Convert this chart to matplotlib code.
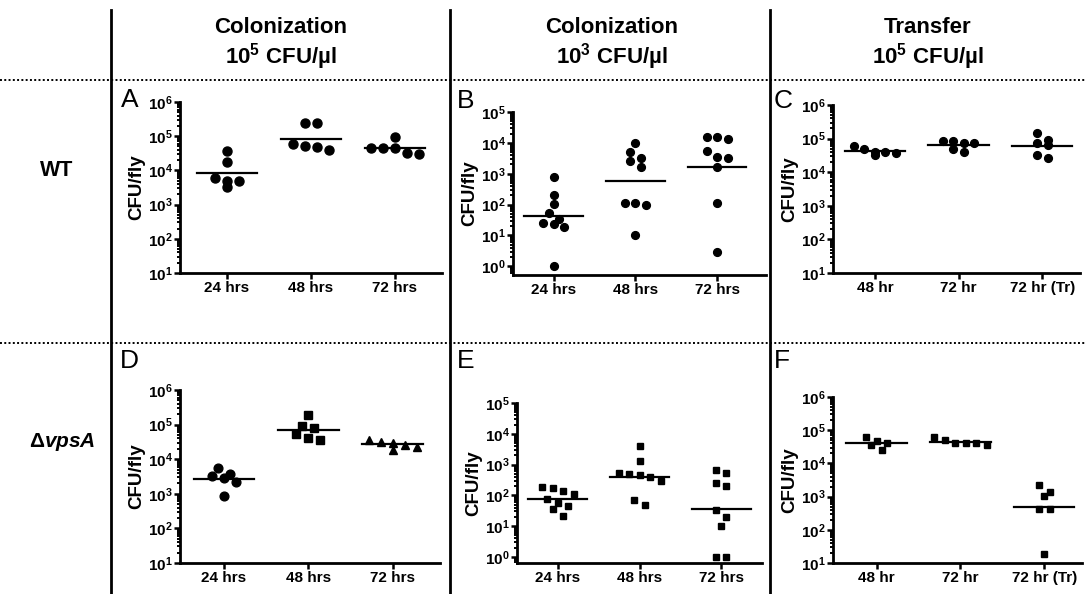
import numpy as np
import matplotlib
matplotlib.use('Agg')
import matplotlib.pyplot as plt
from matplotlib.ticker import FuncFormatter, LogLocator, NullFormatter
from matplotlib.lines import Line2D

plt.rcParams['font.family'] = ['Liberation Sans', 'DejaVu Sans']
plt.rcParams['font.weight'] = 'bold'
plt.rcParams['mathtext.fontset'] = 'custom'
plt.rcParams['mathtext.rm'] = 'Liberation Sans:bold'
plt.rcParams['mathtext.bf'] = 'Liberation Sans:bold'
plt.rcParams['mathtext.it'] = 'Liberation Sans:bold:italic'

# categorias
hrs = ['24 hrs', '48 hrs', '72 hrs']
hr_tr = ['48 hr', '72 hr', '72 hr (Tr)']

# CFU/fly
a_24 = [3.7e4, 1.8e4, 5.0e3, 3.2e3, 4.9e3, 6.2e3]
a_48 = [2.5e5, 2.5e5, 5.2e4, 3.9e4, 4.9e4, 5.9e4]
a_72 = [9.5e4, 4.6e4, 4.6e4, 3.0e4, 4.6e4, 3.2e4]

b_24 = [800, 200, 107, 52, 34, 23, 19.5, 26, 1]
b_48 = [1.0e4, 4.9e3, 3.2e3, 2.5e3, 1.7e3, 112, 95, 112, 10]
b_72 = [1.6e4, 1.35e4, 1.5e4, 5.5e3, 3.6e3, 3.2e3, 1.66e3, 112, 3]

c_48 = [4.1e4, 4.8e4, 3.2e4, 6.0e4, 3.8e4, 4.1e4]
c_72 = [7.2e4, 8.7e4, 8.7e4, 7.2e4, 3.9e4, 4.9e4]
c_tr = [1.5e5, 7.6e4, 9.1e4, 6.5e4, 2.6e4, 3.2e4]

d_24 = [3.7e3, 5.6e3, 2.9e3, 2.2e3, 3.2e3, 870]
d_48 = [1.9e5, 9.1e4, 8.1e4, 5.2e4, 3.5e4, 4.0e4]
d_72 = [2.5e4, 3.2e4, 1.9e4, 3.5e4, 2.3e4, 3.0e4]

e_24 = [170, 110, 141, 182, 58, 46, 78, 35, 22]
e_48 = [3.9e3, 1.3e3, 480, 380, 460, 525, 295, 48, 71]
e_72 = [525, 676, 257, 200, 33, 20, 10, 1, 1]

f_48 = [4.2e4, 6.3e4, 3.6e4, 4.7e4, 2.6e4]
f_72 = [4.2e4, 5.1e4, 6.3e4, 3.7e4, 4.2e4, 4.2e4]
f_tr = [2.2e3, 1.05e3, 1.4e3, 420, 420, 19]

W, H = 1085, 594
fig = plt.figure(figsize=(W / 100, H / 100), dpi=100)


def caja(x0, x1, ytop, ybot):
    # pixeles -> fraccion de figura
    return [x0 / W, 1 - ybot / H, (x1 - x0) / W, (ybot - ytop) / H]


def fmt_log(v, pos):
    return r'$\mathbf{10^{%d}}$' % round(np.log10(v))


def panel(rect, grupos, etiquetas, ylo, yhi, xlim, marcadores, tam, letra, lpos, paso_px=10.5):
    ax = fig.add_axes(caja(*rect))
    ax.set_yscale('log')
    ax.set_ylim(ylo, yhi)
    ax.set_xlim(*xlim)
    pos = ax.get_position()
    w_px = pos.width * W
    h_px = pos.height * H
    px_dec = h_px / np.log10(yhi / ylo)
    px_x = w_px / (xlim[1] - xlim[0])
    paso = paso_px / px_x
    umbral = 8.0 / px_dec

    for i, vals in enumerate(grupos):
        lv = np.log10(vals)
        orden = np.argsort(-lv)
        # agrupar puntos cercanos en y y repartirlos en x
        bins = []
        for k in orden:
            if bins and lv[bins[-1][0]] - lv[k] < umbral:
                bins[-1].append(k)
            else:
                bins.append([k])
        xs = np.zeros(len(vals))
        for b in bins:
            n = len(b)
            for j, k in enumerate(b):
                xs[k] = i + (j - (n - 1) / 2) * paso
        ax.plot(xs, vals, linestyle='none', marker=marcadores[i], ms=tam[i],
                color='black', clip_on=False, zorder=3)
        gm = 10 ** np.mean(lv)
        ax.plot([i - 0.36, i + 0.36], [gm, gm], color='black', lw=1.6, zorder=2)

    ax.set_xticks(range(len(etiquetas)))
    ax.set_xticklabels(etiquetas, fontsize=11, fontweight='bold')
    ax.yaxis.set_major_locator(LogLocator(base=10, numticks=12))
    ax.yaxis.set_minor_locator(LogLocator(base=10, subs=np.arange(2, 10), numticks=12))
    ax.yaxis.set_major_formatter(FuncFormatter(fmt_log))
    ax.yaxis.set_minor_formatter(NullFormatter())
    ax.tick_params(axis='y', which='major', length=4, width=1.8, pad=1, labelsize=11)
    ax.tick_params(axis='y', which='minor', length=2.5, width=1.4)
    ax.tick_params(axis='x', length=4, width=1.8, pad=2)
    for s in ['top', 'right']:
        ax.spines[s].set_visible(False)
    for s in ['left', 'bottom']:
        ax.spines[s].set_linewidth(2.0)
    ax.set_ylabel('CFU/fly', fontsize=13.5, fontweight='bold', labelpad=2)
    fig.text(lpos[0] / W, 1 - lpos[1] / H, letra, fontsize=19, fontweight='normal',
             ha='left', va='baseline')
    return ax


circ = ['o', 'o', 'o']
cuad = ['s', 's', 's']

panel((180, 442, 102, 273), [a_24, a_48, a_72], hrs, 1e1, 1e6, (-0.56, 2.56),
      circ, [6.5, 6.5, 6.5], 'A', (121, 107), paso_px=12)
panel((513, 766, 112, 275), [b_24, b_48, b_72], hrs, 10 ** -0.28, 1e5, (-0.5, 2.6),
      circ, [5.6, 5.6, 5.6], 'B', (457, 108))
panel((833, 1080, 105, 273), [c_48, c_72, c_tr], hr_tr, 1e1, 1e6, (-0.5, 2.45),
      circ, [5.6, 5.6, 5.6], 'C', (774, 108))
panel((180, 440, 390, 563), [d_24, d_48, d_72], hrs, 1e1, 1e6, (-0.52, 2.56),
      ['o', 's', '^'], [6.3, 5.8, 6.3], 'D', (120, 368), paso_px=12)
panel((517, 762, 403, 563), [e_24, e_48, e_72], hrs, 10 ** -0.2, 1e5, (-0.5, 2.5),
      cuad, [4.6, 4.6, 4.6], 'E', (457, 368))
panel((833, 1082, 397, 563), [f_48, f_72, f_tr], hr_tr, 1e1, 1e6, (-0.52, 2.45),
      cuad, [5.0, 5.0, 5.0], 'F', (774, 368))

# encabezados de columnas
cols_x = [281, 612, 928]
linea1 = ['Colonization', 'Colonization', 'Transfer']
linea2 = [r'$\mathbf{10^{5}}$ CFU/µl', r'$\mathbf{10^{3}}$ CFU/µl', r'$\mathbf{10^{5}}$ CFU/µl']
for x, t1, t2 in zip(cols_x, linea1, linea2):
    fig.text(x / W, 1 - 33 / H, t1, ha='center', va='baseline', fontsize=16, fontweight='bold')
    fig.text(x / W, 1 - 63 / H, t2, ha='center', va='baseline', fontsize=16, fontweight='bold')

# etiquetas de filas
fig.text(57 / W, 1 - 171 / H, 'WT', ha='center', va='center', fontsize=15.5, fontweight='bold')
fig.text(62 / W, 1 - 442 / H, r'Δ$\mathbf{\it{vpsA}}$', ha='center', va='center',
         fontsize=15, fontweight='bold')

# separadores
for y in [80, 343]:
    fig.add_artist(Line2D([0, 1], [1 - y / H, 1 - y / H], color='black', lw=1.4,
                          linestyle=(0, (1, 1.2))))
for x in [111, 450, 770]:
    fig.add_artist(Line2D([x / W, x / W], [0, 1 - 10 / H], color='black', lw=2.0))

fig.savefig('out.png', dpi=100)
